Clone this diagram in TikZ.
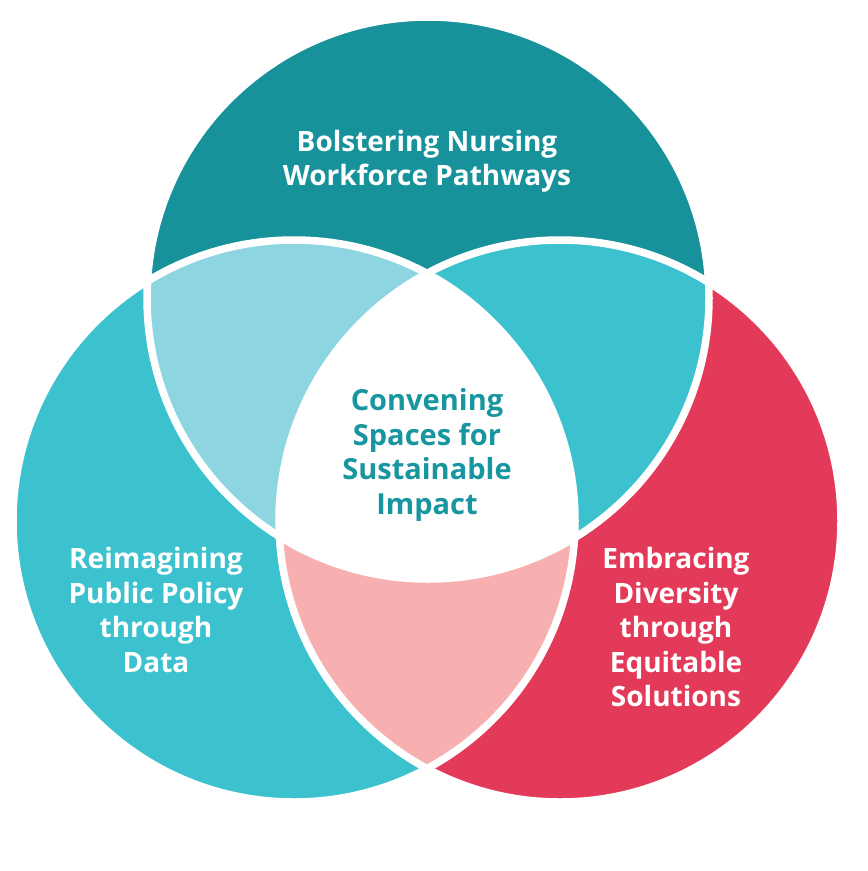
\documentclass[tikz,border=0pt]{standalone}
\usepackage{fontspec}
\setmainfont{Open Sans}
\usepackage{xcolor}
\usepackage{tikz}
\definecolor{DeepTeal}{RGB}{23,146,154}
\definecolor{Aqua}{RGB}{60,194,206}
\definecolor{Crimson}{RGB}{226,58,88}
\definecolor{PaleAqua}{RGB}{141,213,225}
\definecolor{Blush}{RGB}{247,175,175}
\definecolor{LabelTeal}{RGB}{24,150,160}
\tikzset{
  ringlabel/.style={align=center,text=white,font=\bfseries\fontsize{28}{34.5}\selectfont},
  hublabel/.style={align=center,text=LabelTeal,font=\bfseries\fontsize{29}{34.5}\selectfont}
}

\begin{document}
\begin{tikzpicture}[x=1pt,y=-1pt]
      \useasboundingbox (0,0) rectangle (868,871);
      \coordinate (topc) at (428,298);
      \coordinate (leftc) at (294,521);
      \coordinate (rightc) at (560,521);
      \def\ringr{281pt}

      \fill[DeepTeal] (topc) circle[radius=\ringr];
      \fill[Aqua] (leftc) circle[radius=\ringr];
      \fill[Crimson] (rightc) circle[radius=\ringr];
      \begin{scope}
        \clip (topc) circle[radius=\ringr];
        \fill[PaleAqua] (leftc) circle[radius=\ringr];
        \fill[Aqua] (rightc) circle[radius=\ringr];
      \end{scope}
      \begin{scope}
        \clip (leftc) circle[radius=\ringr];
        \fill[Blush] (rightc) circle[radius=\ringr];
        \clip (rightc) circle[radius=\ringr];
        \fill[white] (topc) circle[radius=\ringr];
      \end{scope}
      \foreach \c in {topc,leftc,rightc}
        \draw[white,line width=7.5pt] (\c) circle[radius=\ringr];

      \node[ringlabel] (nursing) at (427,161) {Bolstering Nursing\\Workforce Pathways};
      \node[hublabel] (convening) at (427,455) {Convening\\Spaces for\\Sustainable\\Impact};
      \node[ringlabel] (policy) at (156,610) {Reimagining\\Public Policy\\through\\Data};
      \node[ringlabel] (diversity) at (676,627) {Embracing\\Diversity\\through\\Equitable\\Solutions};
    \end{tikzpicture}
\end{document}
